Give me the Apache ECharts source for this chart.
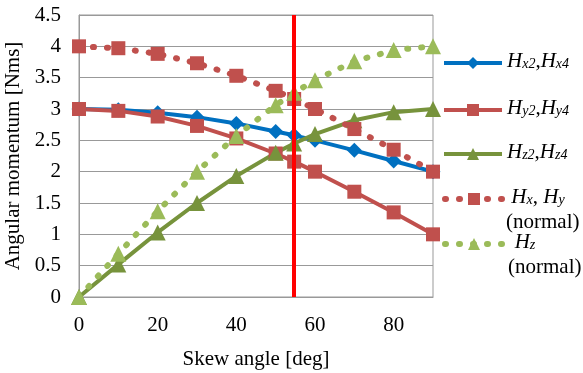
<!DOCTYPE html>
<html><head><meta charset="utf-8">
<script src="https://cdn.jsdelivr.net/npm/echarts@6/dist/echarts.min.js"></script>
<style>html,body{margin:0;padding:0;background:#fff}#c{width:583px;height:373px}</style>
</head><body><div id="c"></div>
<script>
const angles = [0, 10, 20, 30, 40, 50, 54.7, 60, 70, 80, 90];
const hx2 = [3.0, 2.99, 2.94, 2.87, 2.77, 2.64, 2.58, 2.5, 2.34, 2.17, 2.0];
const hy2 = [3.0, 2.97, 2.88, 2.73, 2.53, 2.29, 2.16, 2.0, 1.68, 1.35, 1.0];
const hz2 = [0, 0.52, 1.03, 1.5, 1.93, 2.3, 2.45, 2.6, 2.82, 2.95, 3.0];
const hxyNormal = [4.0, 3.97, 3.88, 3.73, 3.53, 3.29, 3.16, 3.0, 2.68, 2.35, 2.0];
const hzNormal = [0, 0.69, 1.37, 2.0, 2.57, 3.06, 3.26, 3.46, 3.76, 3.94, 4.0];
const skewLine = 54.7;
const yTicks = ['0','0.5','1','1.5','2','2.5','3','3.5','4','4.5'];

const pair = a => angles.map((x, i) => [x, a[i]]);
const serif = 'Liberation Serif';
const rich = {
  h: {fontFamily: serif, fontStyle: 'italic', fontSize: 21, color: '#000', lineHeight: 24, verticalAlign: 'top'},
  s: {fontFamily: serif, fontStyle: 'italic', fontSize: 14, color: '#000', lineHeight: 24, verticalAlign: 'top', padding: [6, 0, 0, 0]},
  c: {fontFamily: serif, fontSize: 21, color: '#000', lineHeight: 24, verticalAlign: 'top'}
};
const labels = {
  'Hx2': '{h|H}{s|x2}{c|,}{h|H}{s|x4}',
  'Hy2': '{h|H}{s|y2}{c|,}{h|H}{s|y4}',
  'Hz2': '{h|H}{s|z2}{c|,}{h|H}{s|z4}',
  'HxyN': ' {h|H}{s|x}{c|, }{h|H}{s|y}',
  'HzN': '  {h|H}{s|z}'
};
const BLUE = '#0070C0', RED = '#C0504D', GREEN = '#77933C', LGREEN = '#9BBB59';
const DOTS = [1, 13];
function leg(name, top, dotted) {
  return {
    data: [name], left: 437, top: top, itemWidth: 58, itemHeight: 15, itemGap: 4,
    formatter: n => labels[n], textStyle: {rich: rich}, selectedMode: false,
    lineStyle: dotted ? {width: 6, type: DOTS, cap: 'round'} : {width: 4}
  };
}
const chart = echarts.init(document.getElementById('c'));
chart.setOption({
  animation: false,
  grid: {left: 79, right: 150, top: 15, bottom: 76, show: true, borderColor: '#999', borderWidth: 1,
         containLabel: false, outerBoundsMode: 'none'},
  legend: [leg('Hx2', 46, false), leg('Hy2', 93, false), leg('Hz2', 137, false), leg('HxyN', 182, true), leg('HzN', 227, true)],
  graphic: [
    {type: 'text', left: 506, top: 212, style: {text: '(normal)', font: '21px Liberation Serif', fill: '#000'}},
    {type: 'text', left: 508, top: 257, style: {text: '(normal)', font: '21px Liberation Serif', fill: '#000'}}
  ],
  xAxis: {
    type: 'value', min: 0, max: 90, interval: 20,
    name: 'Skew angle [deg]', nameLocation: 'middle', nameGap: 52,
    nameTextStyle: {fontFamily: serif, fontSize: 21, color: '#000'},
    axisLine: {lineStyle: {color: '#999'}}, axisTick: {show: false},
    axisLabel: {fontFamily: serif, fontSize: 21, color: '#000', margin: 18, showMaxLabel: false},
    splitLine: {show: false}
  },
  yAxis: {
    type: 'value', min: 0, max: 4.5, interval: 0.5,
    name: 'Angular momentum [Nms]', nameLocation: 'middle', nameGap: 49,
    nameTextStyle: {fontFamily: serif, fontSize: 21, color: '#000'},
    axisLine: {show: true, lineStyle: {color: '#999'}}, axisTick: {show: false},
    axisLabel: {fontFamily: serif, fontSize: 21, color: '#000', margin: 18, formatter: v => yTicks[Math.round(v * 2)]},
    splitLine: {lineStyle: {color: '#999', width: 1}}
  },
  series: [
    {name: 'Hx2', type: 'line', data: pair(hx2), symbol: 'diamond', symbolSize: 15,
     itemStyle: {color: BLUE}, lineStyle: {color: BLUE, width: 4}, z: 3},
    {name: 'Hy2', type: 'line', data: pair(hy2), symbol: 'rect', symbolSize: 14,
     itemStyle: {color: RED}, lineStyle: {color: RED, width: 4}, z: 3},
    {name: 'Hz2', type: 'line', data: pair(hz2), symbol: 'triangle', symbolSize: 16,
     itemStyle: {color: GREEN}, lineStyle: {color: GREEN, width: 4}, z: 3},
    {name: 'HxyN', type: 'line', data: pair(hxyNormal), symbol: 'rect', symbolSize: 14,
     itemStyle: {color: RED}, lineStyle: {color: RED, width: 6, type: DOTS, cap: 'round'}, z: 3},
    {name: 'HzN', type: 'line', data: pair(hzNormal), symbol: 'triangle', symbolSize: 16,
     itemStyle: {color: LGREEN}, lineStyle: {color: LGREEN, width: 6, type: DOTS, cap: 'round'}, z: 3,
     markLine: {silent: true, symbol: 'none', label: {show: false}, animation: false,
       lineStyle: {color: '#FF0000', width: 4, type: 'solid'}, data: [{xAxis: skewLine}], z: 5}}
  ]
});
</script></body></html>
